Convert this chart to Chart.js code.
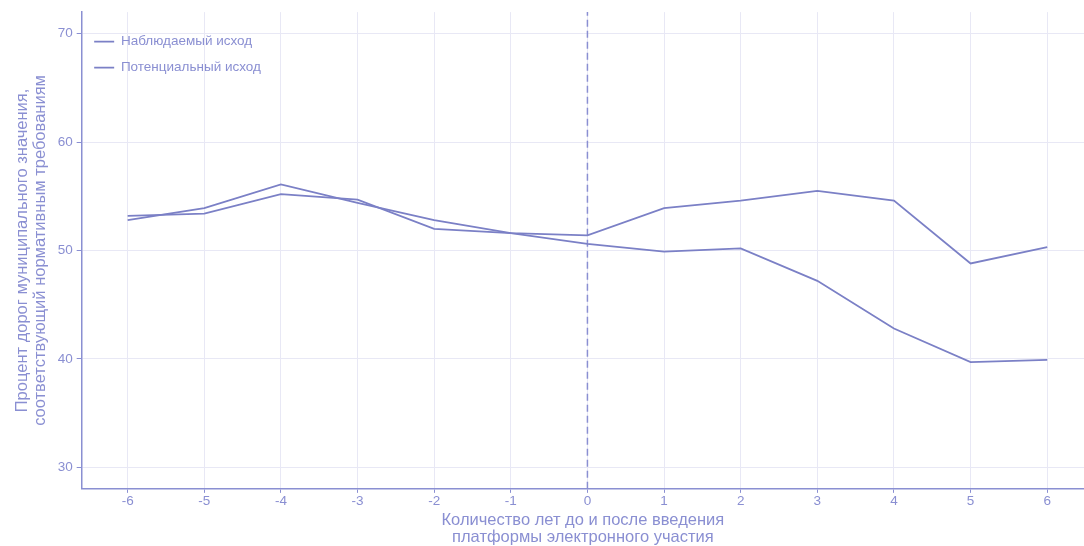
<!DOCTYPE html>
<html>
<head>
<meta charset="utf-8">
<script src="https://cdn.jsdelivr.net/npm/chart.js@4"></script>
<style>
  html, body { margin: 0; padding: 0; background: #fff; }
  #wrap { width: 1084px; height: 546px; }
</style>
</head>
<body>
<div id="wrap"><canvas id="Chart"></canvas></div>
<script>
// данные графика
let years = [-6, -5, -4, -3, -2, -1, 0, 1, 2, 3, 4, 5, 6];
let observedValues = [52.8, 53.9, 56.1, 54.4, 52.8, 51.6, 51.4, 53.9, 54.6, 55.5, 54.6, 48.8, 50.3];
let potentialValues = [53.2, 53.4, 55.2, 54.7, 52.0, 51.6, 50.6, 49.9, 50.2, 47.2, 42.8, 39.7, 39.9];
let yTicks = [30, 40, 50, 60, 70];
let labelsData = ['Наблюдаемый исход', 'Потенциальный исход'];
let treatmentYear = 0;

let lineColor = '#7b80c6';
let textColor = '#8a8fd2';
let gridColor = '#e8e8f5';
let fontFamily = 'Liberation Sans';

let lineCtx = document.getElementById("Chart");

let lineConfig = {
    type: 'line',
    data: {
        datasets: [{
            label: labelsData[0],
            data: years.map((x, i) => ({ x: x, y: observedValues[i] })),
            borderColor: lineColor,
            backgroundColor: lineColor,
            borderWidth: 1.8,
            pointRadius: 0,
        }, {
            label: labelsData[1],
            data: years.map((x, i) => ({ x: x, y: potentialValues[i] })),
            borderColor: lineColor,
            backgroundColor: lineColor,
            borderWidth: 1.8,
            pointRadius: 0,
        }, {
            label: 'treatment',
            data: [{ x: treatmentYear, y: 28 }, { x: treatmentYear, y: 72 }],
            borderColor: '#8a8fd2',
            borderWidth: 1.5,
            borderDash: [7, 4],
            pointRadius: 0,
        }],
    },
    options: {
        responsive: true,
        maintainAspectRatio: false,
        animation: false,
        layout: { padding: { left: 14, top: 12, right: 0, bottom: 0 } },
        plugins: {
            tooltip: { enabled: false },
            legend: {
                position: 'chartArea',
                align: 'start',
                title: {
                    display: true,
                    text: ' ',
                    font: { family: fontFamily, size: 12 },
                    padding: { top: 0, bottom: 8 },
                },
                labels: {
                    filter: item => item.datasetIndex < 2,
                    usePointStyle: true,
                    pointStyle: 'line',
                    pointStyleWidth: 20,
                    color: textColor,
                    padding: 12.5,
                    font: { family: fontFamily, size: 13.5 },
                },
            },
        },
        scales: {
            x: {
                type: 'linear',
                min: -6.6,
                max: 6.48,
                afterBuildTicks: axis => { axis.ticks = years.map(v => ({ value: v })); },
                grid: { color: gridColor, tickColor: textColor, tickLength: 4 },
                border: { color: textColor, width: 1.5 },
                ticks: { color: textColor, font: { family: fontFamily, size: 13.5, lineHeight: 1.0 }, padding: 2 },
                title: {
                    display: true,
                    text: ['Количество лет до и после введения', 'платформы электронного участия'],
                    color: textColor,
                    font: { family: fontFamily, size: 16.5, lineHeight: 1.05 },
                    padding: { top: 1, bottom: 0 },
                },
            },
            y: {
                min: 28,
                max: 72,
                afterBuildTicks: axis => { axis.ticks = yTicks.map(v => ({ value: v })); },
                grid: { color: gridColor, tickColor: textColor, tickLength: 5 },
                border: { color: textColor, width: 1.5 },
                ticks: { color: textColor, font: { family: fontFamily, size: 13.5 }, padding: 4 },
                title: {
                    display: true,
                    text: ['Процент дорог муниципального значения,', 'соответствующий нормативным требованиям'],
                    color: textColor,
                    font: { family: fontFamily, size: 16.5, lineHeight: 1.05 },
                    padding: { top: 0, bottom: 5 },
                },
            },
        },
    },
};
let lineChart = new Chart(lineCtx, lineConfig);
</script>
</body>
</html>
